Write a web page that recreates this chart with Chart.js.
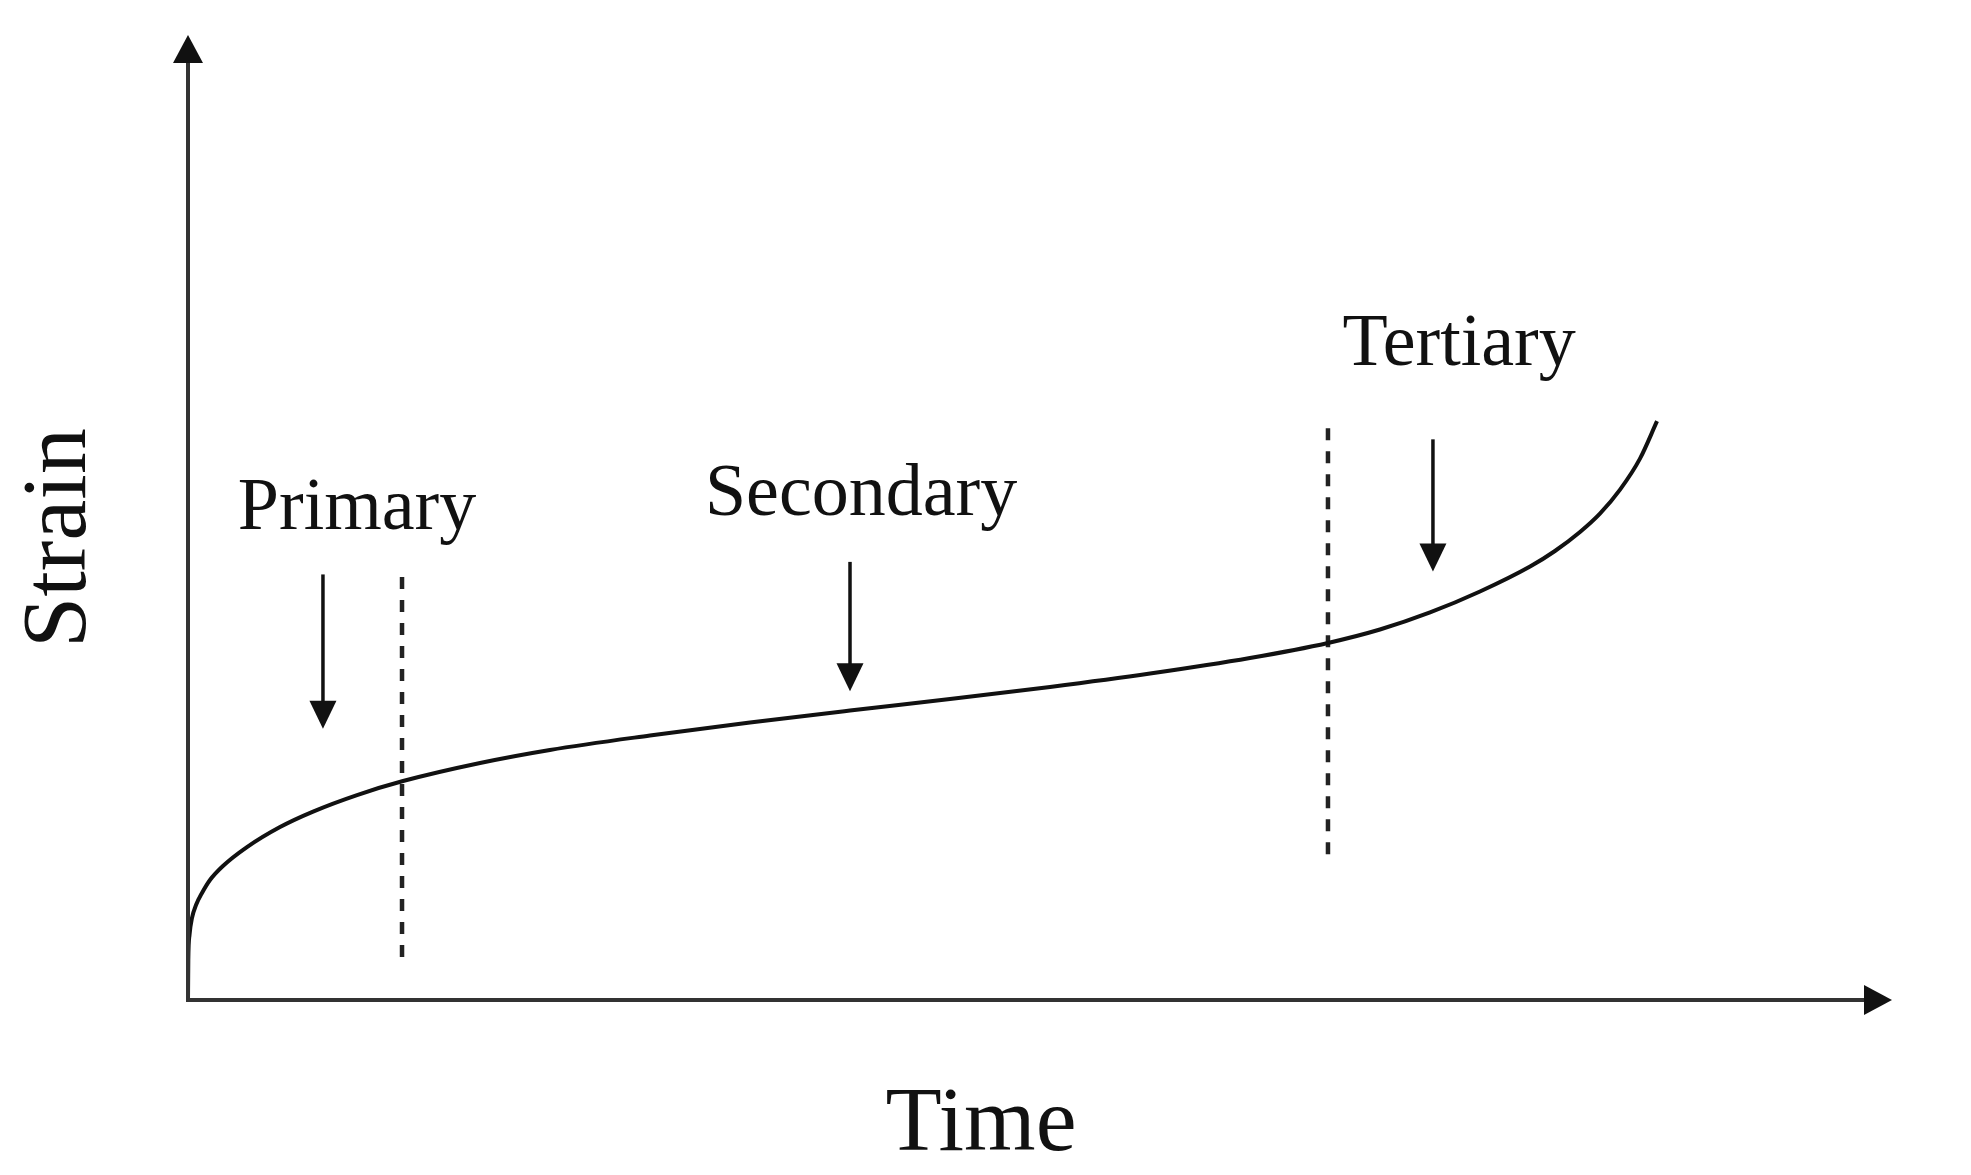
<!DOCTYPE html>
<html><head><meta charset="utf-8">
<script src="https://cdn.jsdelivr.net/npm/chart.js@4.4.1/dist/chart.umd.min.js"></script>
<style>html,body{margin:0;padding:0;background:#fff;overflow:hidden}canvas{display:block}</style>
</head><body>
<canvas id="c" width="1971" height="1175"></canvas>
<script>
// Creep curve (Time in arbitrary units 0-100, Strain in arbitrary units 0-100)
const curveTime   = [0, 0.018, 0.088, 0.235, 0.47, 0.82, 1.29, 2.05, 3.46, 5.40, 7.34, 9.92, 12.62, 17.14, 21.24, 27.11, 32.98, 38.85, 44.72, 50.59, 56.46, 62.32, 66.9, 69.95, 72.89, 75.82, 78.76, 80.22, 81.69, 82.86, 84.04, 85.21, 86.21];
const curveStrain = [0, 4.15, 6.74, 8.50, 9.84, 11.09, 12.44, 13.89, 15.85, 17.93, 19.53, 21.24, 22.69, 24.56, 25.91, 27.41, 28.76, 30.0, 31.19, 32.44, 33.83, 35.44, 37.0, 38.39, 40.16, 42.33, 44.92, 46.53, 48.5, 50.4, 52.89, 56.1, 59.98];

// Stage boundaries (dashed verticals)
const boundaryTime = [12.56, 66.9];
const boundaryFrom = [4.45, 15.1];
const boundaryTo   = [44.3, 59.4];

// Stage labels and pointer arrows
const stageNames  = ['Primary', 'Secondary', 'Tertiary'];
const stageLabelX = [9.92, 39.5, 74.6];
const stageLabelY = [48.8, 50.3, 65.8];
const arrowX    = [7.92, 38.85, 73.06];
const arrowFrom = [44.1, 45.4, 58.1];
const arrowTo   = [28.1, 32.0, 44.4];

const xTitle = 'Time';
const yTitle = 'Strain';

const datasets = [{
  data: curveTime.map((t, i) => ({x: t, y: curveStrain[i]})),
  borderColor: '#111', borderWidth: 4, pointRadius: 0,
  cubicInterpolationMode: 'monotone', fill: false
}];
boundaryTime.forEach((t, i) => datasets.push({
  data: [{x: t, y: boundaryFrom[i]}, {x: t, y: boundaryTo[i]}],
  borderColor: '#222', borderWidth: 4.5, borderDash: [12, 11], pointRadius: 0, fill: false
}));

const decor = {
  id: 'decor',
  afterDatasetsDraw(chart) {
    const ctx = chart.ctx, a = chart.chartArea;
    const xs = chart.scales.x, ys = chart.scales.y;
    ctx.save();
    // axes
    ctx.strokeStyle = '#333'; ctx.fillStyle = '#111'; ctx.lineWidth = 4; ctx.lineCap = 'butt';
    ctx.beginPath();
    ctx.moveTo(a.left, a.bottom + 2); ctx.lineTo(a.left, a.top + 26);
    ctx.moveTo(a.left - 2, a.bottom); ctx.lineTo(a.right - 26, a.bottom);
    ctx.stroke();
    ctx.beginPath();
    ctx.moveTo(a.left, a.top); ctx.lineTo(a.left - 15, a.top + 28); ctx.lineTo(a.left + 15, a.top + 28); ctx.closePath();
    ctx.fill();
    ctx.beginPath();
    ctx.moveTo(a.right, a.bottom); ctx.lineTo(a.right - 28, a.bottom - 15); ctx.lineTo(a.right - 28, a.bottom + 15); ctx.closePath();
    ctx.fill();
    // stage arrows
    ctx.strokeStyle = '#111'; ctx.lineWidth = 3.5;
    arrowX.forEach((v, i) => {
      const px = xs.getPixelForValue(v);
      const y0 = ys.getPixelForValue(arrowFrom[i]);
      const y1 = ys.getPixelForValue(arrowTo[i]);
      ctx.beginPath(); ctx.moveTo(px, y0); ctx.lineTo(px, y1 - 20); ctx.stroke();
      ctx.beginPath(); ctx.moveTo(px, y1); ctx.lineTo(px - 13.5, y1 - 28); ctx.lineTo(px + 13.5, y1 - 28); ctx.closePath(); ctx.fill();
    });
    // stage labels
    ctx.fillStyle = '#111';
    ctx.font = '74px "Liberation Serif", "Times New Roman", serif';
    ctx.textAlign = 'center'; ctx.textBaseline = 'alphabetic';
    stageNames.forEach((n, i) => ctx.fillText(n, xs.getPixelForValue(stageLabelX[i]), ys.getPixelForValue(stageLabelY[i])));
    // axis titles
    ctx.font = '92px "Liberation Serif", "Times New Roman", serif';
    ctx.fillText(xTitle, 981, 1150);
    ctx.save();
    ctx.translate(85, 538); ctx.rotate(-Math.PI / 2);
    ctx.fillText(yTitle, 0, 0);
    ctx.restore();
    ctx.restore();
  }
};

new Chart(document.getElementById('c'), {
  type: 'line',
  data: {datasets},
  options: {
    responsive: false, animation: false,
    layout: {padding: {left: 188, top: 35, right: 79, bottom: 175}},
    plugins: {legend: {display: false}, tooltip: {enabled: false}, title: {display: false}},
    scales: {
      x: {type: 'linear', min: 0, max: 100, display: false},
      y: {type: 'linear', min: 0, max: 100, display: false}
    }
  },
  plugins: [decor]
});
</script>
</body></html>
